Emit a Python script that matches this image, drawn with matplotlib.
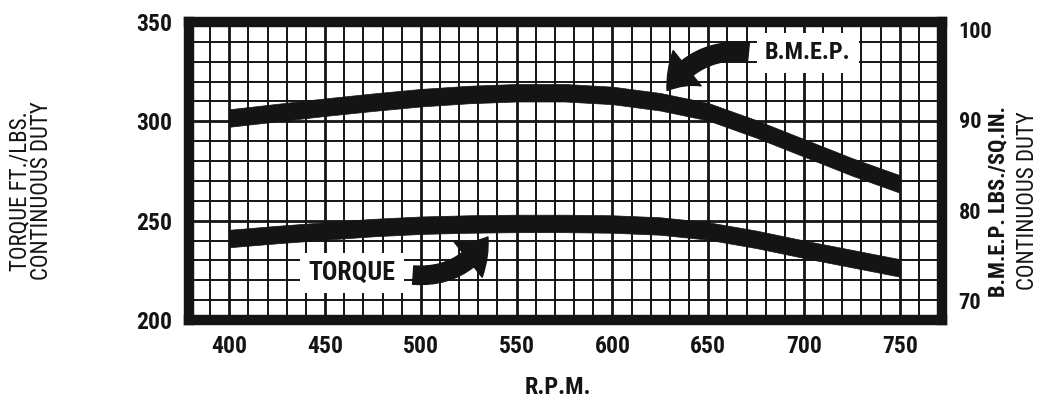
import matplotlib.pyplot as plt
from matplotlib import font_manager
from matplotlib.ticker import MultipleLocator

# data
rpm = [400, 425, 450, 475, 500, 525, 550, 575, 600, 625, 650, 675, 700, 725, 750]
torque = [241.0, 243.0, 244.8, 246.5, 247.7, 248.3, 248.6, 248.6, 248.3, 247.3,
          244.8, 240.6, 235.6, 230.9, 226.2]          # ft/lbs, left axis
bmep = [90.2, 90.8, 91.4, 91.95, 92.45, 92.8, 93.0, 93.0, 92.7, 92.0,
        90.9, 89.0, 86.9, 84.8, 82.9]                 # lbs/sq.in., right axis

x_ticks = [400, 450, 500, 550, 600, 650, 700, 750]
torque_ticks = [200, 250, 300, 350]
bmep_ticks = [70, 80, 90, 100]

ink = '#141414'

# look for a narrow face, the print uses a condensed gothic
ttf = font_manager.fontManager.ttflist
names = {f.name for f in ttf}
family, stretch, k = 'DejaVu Sans', 'normal', 0.8
for cand in ['Liberation Sans Narrow', 'Roboto Condensed', 'Open Sans Condensed',
             'DejaVu Sans Condensed']:
    if cand in names:
        family, k = cand, 1.0
        break
else:
    if any(f.name == 'DejaVu Sans' and str(f.stretch) in ('condensed', 'semi-condensed')
           for f in ttf):
        stretch, k = 'condensed', 1.0
plt.rcParams['font.family'] = [family, 'DejaVu Sans']
plt.rcParams['font.stretch'] = stretch

fig = plt.figure(figsize=(10.45, 4.03), dpi=100)
ax = fig.add_axes([0.1809, 0.206, 0.7205, 0.7395])
ax2 = ax.twinx()

ax.set_xlim(379, 772)
ax.set_ylim(200, 350)
ax2.set_ylim(67.85, 100.83)

# grid paper
ax.xaxis.set_minor_locator(MultipleLocator(10))
ax.yaxis.set_minor_locator(MultipleLocator(10))
ax.set_xticks(x_ticks)
ax.set_yticks(torque_ticks)
ax2.set_yticks(bmep_ticks)
ax.grid(which='minor', color=ink, linewidth=1.4, zorder=0)
ax.grid(which='major', color=ink, linewidth=2.0, zorder=0)
ax.set_axisbelow(True)

# thick bands
ax.fill_between(rpm, [t - 4.4 for t in torque], [t + 4.4 for t in torque],
                color=ink, linewidth=0.5, zorder=2)
ax2.fill_between(rpm, [b - 0.97 for b in bmep], [b + 0.97 for b in bmep],
                 color=ink, linewidth=0.5, zorder=2)

for s in ax.spines.values():
    s.set_linewidth(7.5)
    s.set_color(ink)
    s.set_zorder(5)
for s in ax2.spines.values():
    s.set_visible(False)

ts = 17 * k
ax.tick_params(which='both', length=0)
ax2.tick_params(which='both', length=0)
ax.tick_params(axis='y', pad=12, labelsize=ts, labelcolor=ink)
ax.tick_params(axis='x', pad=11, labelsize=ts, labelcolor=ink)
ax2.tick_params(axis='y', pad=12, labelsize=16 * k, labelcolor=ink)
for lab in ax.get_xticklabels() + ax.get_yticklabels() + ax2.get_yticklabels():
    lab.set_fontweight('bold')

# labels on the curves
box = dict(facecolor='white', edgecolor='none', pad=6)
ax.text(464, 223.7, 'TORQUE', ha='center', va='center', fontsize=18.5 * k,
        fontweight='bold', color=ink, bbox=box, zorder=4)
ax.text(702, 334.4, 'B.M.E.P.', ha='center', va='center', fontsize=17.5 * k,
        fontweight='bold', color=ink, bbox=box, zorder=4)

arrow = dict(arrowstyle='simple,head_length=0.9,head_width=1.35,tail_width=0.55',
             mutation_scale=24, color=ink, shrinkA=0, shrinkB=0)
ax.annotate('', xy=(535, 241.8), xytext=(496, 222.6),
            arrowprops=dict(arrow, connectionstyle='arc3,rad=0.3'), zorder=4)
ax.annotate('', xy=(628.5, 315.5), xytext=(671, 334.9),
            arrowprops=dict(arrow, connectionstyle='arc3,rad=0.3'), zorder=4)

# axis titles
fs = 16.5 * k
fig.text(20 / 1045, 0.526, 'TORQUE FT./LBS.', rotation=90, ha='center', va='center',
         fontsize=fs, color=ink)
fig.text(42 / 1045, 0.526, 'CONTINUOUS DUTY', rotation=90, ha='center', va='center',
         fontsize=fs, color=ink)
fig.text(998 / 1045, 0.501, 'B.M.E.P. LBS./SQ.IN.', rotation=90, ha='center',
         va='center', fontsize=16 * k, fontweight='bold', color=ink)
fig.text(1027 / 1045, 0.501, 'CONTINUOUS DUTY', rotation=90, ha='center', va='center',
         fontsize=fs, color=ink)
fig.text(558 / 1045, 1 - 387 / 403, 'R.P.M.', ha='center', va='center',
         fontsize=17.5 * k, fontweight='bold', color=ink)

fig.savefig('out.png', dpi=100, facecolor='white')
